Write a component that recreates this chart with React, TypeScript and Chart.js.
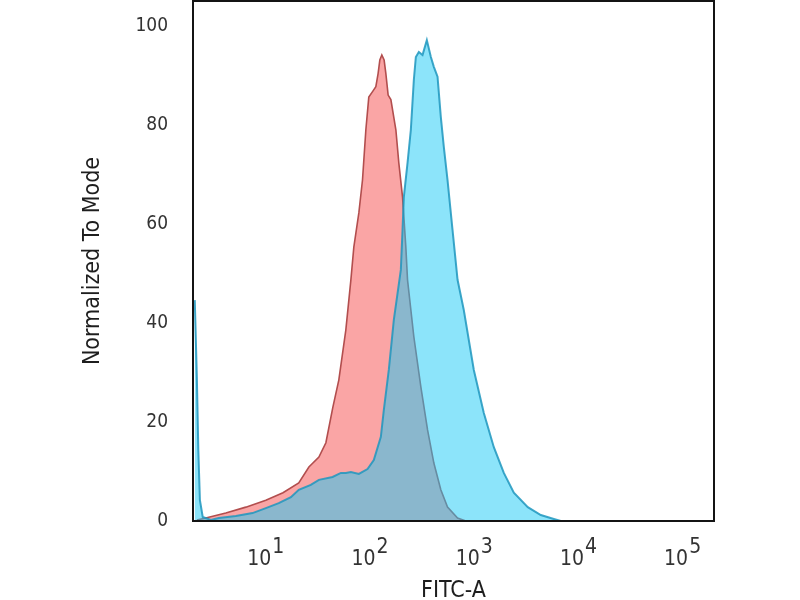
import { useEffect, useRef } from "react";
import { Chart, registerables } from "chart.js";
import type { Plugin } from "chart.js";

Chart.register(...registerables);

const FONT = "'DejaVu Sans Condensed', 'Liberation Sans', sans-serif";

// isotype control (red) - FITC-A channel value and % of mode
const redFitc = [
  2.18, 2.65, 4.13, 6.43, 10, 14.6, 20.7, 25.9, 32.3, 37.7, 44, 50.2, 58.6, 65.5, 69.9, 78.1, 84.7, 91.2,
  97.3, 105.7, 113.7, 119.6, 124.2, 129.8, 136.5, 141.8, 149.2, 158.5, 177, 188.9, 205.1, 220.6, 229,
  263.3, 307.4, 356.5, 409.7, 477.8, 554.1, 691.8, 830,
];
const redCount = [
  0.2, 0.6, 1.6, 2.8, 4.2, 5.7, 7.7, 10.9, 12.9, 15.8, 23, 28.5, 38.6, 48.7, 55.3, 62.2, 68.9, 79, 85.6,
  86.7, 87.7, 90.4, 93.1, 94.1, 93.1, 90.4, 86, 85.1, 79, 72.3, 65.4, 55.3, 48.7, 37.2, 27.1, 18.4, 11.7,
  6.3, 2.8, 0.6, 0,
];

// stained sample (blue)
const blueFitc = [
  2.08, 2.18, 2.25, 2.33, 2.48, 2.97, 3.54, 5.15, 7.45, 10, 13.3, 17.4, 20.7, 27, 32.3, 43.7, 52.5, 58.6,
  65.5, 78.1, 94.6, 108.7, 127, 135.6, 151.4, 169.2, 197.5, 205.1, 211, 229, 246.4, 263.3, 275.2, 293.9,
  319, 350.8, 383.6, 409.7, 444.5, 477.8, 511, 554.1, 619, 691.8, 794, 991, 1236, 1542, 1923, 2399, 3266,
  4355, 5807, 6776,
];
const blueCount = [
  44.6, 28.5, 14.3, 4.2, 0.8, 0.2, 0.6, 1, 1.6, 2.6, 3.6, 4.8, 6.3, 7.3, 8.3, 8.9, 9.7, 9.7, 9.9, 9.5,
  10.5, 12.3, 17, 22.4, 30.5, 40.6, 50.7, 58.8, 65.4, 72.3, 79, 89.1, 93.7, 94.7, 94.1, 97.1, 93.7, 91.7,
  89.7, 81.6, 75.5, 68.9, 58.8, 48.7, 42.6, 30.5, 21.8, 14.9, 9.7, 5.7, 2.8, 1.2, 0.4, 0,
];

const decadeExponents = [1, 2, 3, 4, 5];
const yTicks = [0, 20, 40, 60, 80, 100];

const toPoints = (xs: number[], ys: number[]) => xs.map((x, i) => ({ x, y: ys[i] }));

const framePlugin: Plugin<"line"> = {
  id: "frame",
  afterDatasetsDraw(chart) {
    const { ctx, chartArea: a } = chart;
    ctx.save();
    ctx.strokeStyle = "#141414";
    ctx.lineWidth = 2;
    ctx.strokeRect(a.left, a.top, a.right - a.left, a.bottom - a.top);
    ctx.restore();
  },
};

// 10^n labels with a full-size raised exponent, as in the original
const decadeLabels: Plugin<"line"> = {
  id: "decadeLabels",
  afterDraw(chart) {
    const { ctx, chartArea } = chart;
    const xScale = chart.scales.x;
    const baseY = chartArea.bottom + 44;
    ctx.save();
    ctx.font = `21px ${FONT}`;
    ctx.fillStyle = "#333";
    ctx.textAlign = "left";
    ctx.textBaseline = "alphabetic";
    for (const k of decadeExponents) {
      const px = xScale.getPixelForValue(10 ** k);
      const base = "10";
      const sup = String(k);
      const wb = ctx.measureText(base).width;
      const ws = ctx.measureText(sup).width;
      const start = px - (wb + 1 + ws) / 2;
      ctx.fillText(base, start, baseY);
      ctx.fillText(sup, start + wb + 1, baseY - 12);
    }
    ctx.restore();
  },
};

export default function App() {
  const canvasRef = useRef<HTMLCanvasElement | null>(null);

  useEffect(() => {
    const canvas = canvasRef.current;
    if (!canvas) return;

    const chart = new Chart(canvas, {
      type: "line",
      data: {
        datasets: [
          {
            label: "Isotype",
            data: toPoints(redFitc, redCount),
            borderColor: "#b24e4e",
            borderWidth: 1.6,
            backgroundColor: "rgb(250,165,165)",
            fill: "origin",
            pointRadius: 0,
            tension: 0,
            order: 2,
          },
          {
            label: "FITC",
            data: toPoints(blueFitc, blueCount),
            borderColor: "rgba(30,150,190,0.85)",
            borderWidth: 2,
            backgroundColor: "rgba(25,201,245,0.5)",
            fill: "origin",
            pointRadius: 0,
            tension: 0,
            order: 1,
          },
        ],
      },
      options: {
        animation: false,
        responsive: true,
        maintainAspectRatio: false,
        layout: { padding: { left: 0, right: 86, top: 1, bottom: 0 } },
        plugins: {
          legend: { display: false },
          tooltip: { enabled: false },
        },
        scales: {
          x: {
            type: "logarithmic",
            min: 2,
            max: 200000,
            grid: { display: false, drawTicks: false },
            border: { display: false },
            ticks: { display: false },
            title: {
              display: true,
              text: "FITC-A",
              color: "#1e1e1e",
              font: { family: FONT, size: 23, lineHeight: 1 },
              padding: { top: 0, bottom: -3 },
            },
            afterFit(scale) {
              scale.height = 79;
              scale.paddingLeft = 0;
              scale.paddingRight = 0;
            },
          },
          y: {
            type: "linear",
            min: 0,
            max: 105,
            grid: { display: false, drawTicks: false },
            border: { display: false },
            afterBuildTicks(scale) {
              scale.ticks = yTicks.map((value) => ({ value }));
            },
            ticks: {
              padding: 25,
              color: "#333",
              font: { family: FONT, size: 19 },
            },
            title: {
              display: true,
              text: "Normalized To Mode",
              color: "#1e1e1e",
              font: { family: FONT, size: 23, lineHeight: 1.2 },
              padding: { top: 79, bottom: 0 },
            },
            afterFit(scale) {
              scale.width = 193;
              scale.paddingTop = 0;
              scale.paddingBottom = 0;
            },
          },
        },
      },
      plugins: [framePlugin, decadeLabels],
    });

    return () => {
      chart.destroy();
    };
  }, []);

  return (
    <div style={{ position: "fixed", left: 0, top: 0, width: 800, height: 600, background: "#fff" }}>
      <canvas ref={canvasRef} />
    </div>
  );
}
